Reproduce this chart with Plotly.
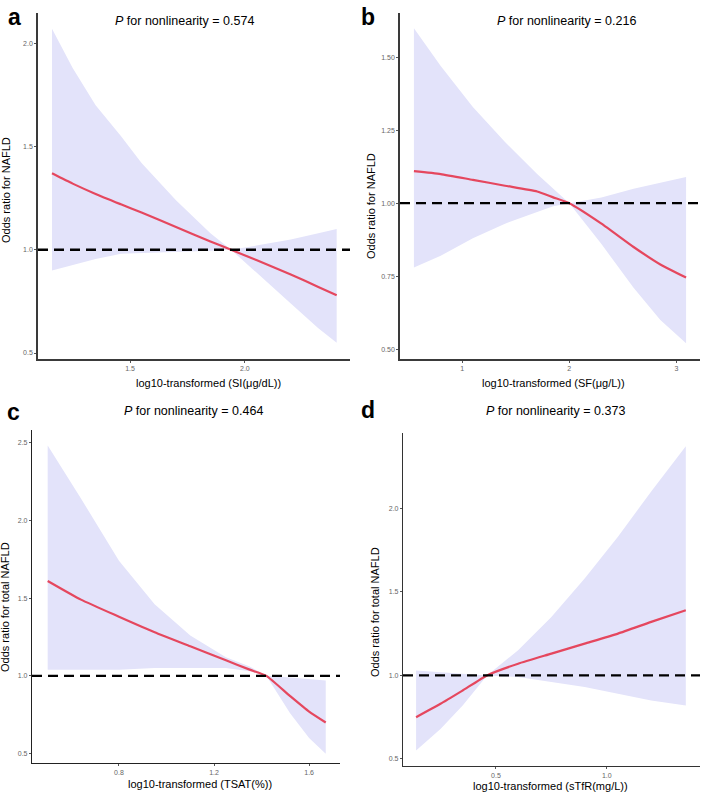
import plotly.graph_objects as go

# ---------------- data ----------------
a_x = [1.16, 1.25, 1.35, 1.46, 1.55, 1.70, 1.85, 1.94, 2.05, 2.20, 2.32, 2.40]
a_or = [1.37, 1.32, 1.27, 1.22, 1.18, 1.11, 1.04, 1.00, 0.95, 0.88, 0.82, 0.78]
a_up = [2.07, 1.88, 1.70, 1.55, 1.42, 1.24, 1.08, 1.00, 1.02, 1.05, 1.08, 1.10]
a_lo = [0.90, 0.925, 0.955, 0.98, 0.985, 0.99, 0.995, 1.00, 0.89, 0.74, 0.62, 0.55]

b_x = [0.55, 0.80, 1.10, 1.40, 1.70, 1.85, 2.00, 2.30, 2.60, 2.85, 3.09]
b_or = [1.11, 1.10, 1.08, 1.06, 1.04, 1.02, 1.00, 0.93, 0.85, 0.79, 0.745]
b_up = [1.60, 1.47, 1.33, 1.21, 1.10, 1.05, 1.00, 1.02, 1.05, 1.07, 1.09]
b_lo = [0.78, 0.82, 0.88, 0.93, 0.97, 0.99, 1.00, 0.86, 0.71, 0.60, 0.52]

c_x = [0.50, 0.64, 0.80, 0.95, 1.10, 1.25, 1.35, 1.42, 1.52, 1.60, 1.67]
c_or = [1.61, 1.49, 1.38, 1.28, 1.19, 1.10, 1.04, 1.00, 0.87, 0.77, 0.70]
c_up = [2.48, 2.14, 1.74, 1.46, 1.26, 1.12, 1.06, 1.00, 0.99, 0.98, 0.97]
c_lo = [1.04, 1.04, 1.04, 1.05, 1.05, 1.05, 1.03, 1.00, 0.76, 0.60, 0.50]

d_x = [0.14, 0.25, 0.35, 0.46, 0.60, 0.75, 0.90, 1.05, 1.20, 1.356]
d_or = [0.75, 0.83, 0.91, 1.00, 1.07, 1.13, 1.19, 1.25, 1.32, 1.39]
d_up = [1.03, 1.02, 1.01, 1.00, 1.15, 1.35, 1.58, 1.83, 2.10, 2.37]
d_lo = [0.55, 0.68, 0.82, 1.00, 0.99, 0.96, 0.93, 0.89, 0.85, 0.82]

titles = ["<i>P</i> for nonlinearity = 0.574", "<i>P</i> for nonlinearity = 0.216",
          "<i>P</i> for nonlinearity = 0.464", "<i>P</i> for nonlinearity = 0.373"]
x_titles = ["log10-transformed (SI(μg/dL))", "log10-transformed (SF(μg/L))",
            "log10-transformed (TSAT(%))", "log10-transformed (sTfR(mg/L))"]
y_titles = ["Odds ratio for NAFLD", "Odds ratio for NAFLD",
            "Odds ratio for total NAFLD", "Odds ratio for total NAFLD"]
letters = ["a", "b", "c", "d"]

a_xticks = [1.5, 2.0]; a_xtext = ["1.5", "2.0"]
a_yticks = [0.5, 1.0, 1.5, 2.0]; a_ytext = ["0.5", "1.0", "1.5", "2.0"]
b_xticks = [1, 2, 3]; b_xtext = ["1", "2", "3"]
b_yticks = [0.5, 0.75, 1.0, 1.25, 1.5]; b_ytext = ["0.50", "0.75", "1.00", "1.25", "1.50"]
c_xticks = [0.8, 1.2, 1.6]; c_xtext = ["0.8", "1.2", "1.6"]
c_yticks = [0.5, 1.0, 1.5, 2.0, 2.5]; c_ytext = ["0.5", "1.0", "1.5", "2.0", "2.5"]
d_xticks = [0.5, 1.0]; d_xtext = ["0.5", "1.0"]
d_yticks = [0.5, 1.0, 1.5, 2.0]; d_ytext = ["0.5", "1.0", "1.5", "2.0"]

# ---------------- layout geometry ----------------
W, H = 708, 799
# pixel boxes: (x0, x1, ytop, ybottom)
boxes = [(38, 350, 13, 359), (400, 700, 13, 359), (32, 340, 430, 763), (403, 700, 433, 766)]
ranges = [([1.099, 2.458], [0.471, 2.146]),
          ([0.42, 3.22], [0.466, 1.652]),
          ([0.434, 1.73], [0.44, 2.58]),
          ([0.081, 1.42], [0.458, 2.45])]
ticks = [(a_xticks, a_xtext, a_yticks, a_ytext), (b_xticks, b_xtext, b_yticks, b_ytext),
         (c_xticks, c_xtext, c_yticks, c_ytext), (d_xticks, d_xtext, d_yticks, d_ytext)]
series = [(a_x, a_or, a_up, a_lo), (b_x, b_or, b_up, b_lo),
          (c_x, c_or, c_up, c_lo), (d_x, d_or, d_up, d_lo)]
title_pos = [(184, 21), (566, 21), (193, 411), (555, 411)]
letter_pos = [(14, 17), (368, 17), (13, 412), (368, 410)]
xt_pos = [(208, 383), (553, 383), (200, 784), (550, 786)]
yt_pos = [(6, 190), (371, 206), (5, 607), (375, 612)]
axis_col = ["#3a3a3a", "#3a3a3a", "#222222", "#333333"]

BAND = "#E3E3FA"
RED = "#E5475E"
FONT = "Liberation Sans, Arial, sans-serif"

fig = go.Figure()
layout = dict(width=W, height=H, margin=dict(l=0, r=0, t=0, b=0),
              paper_bgcolor="white", plot_bgcolor="white", showlegend=False,
              font=dict(family=FONT, color="black"))
shapes, annotations = [], []

def px2x(p):
    return p / W

def px2y(p):
    return 1 - p / H

for i in range(4):
    n = "" if i == 0 else str(i + 1)
    xs, ors, ups, los = series[i]
    xr, yr = ranges[i]
    x0, x1, yt, yb = boxes[i]
    fig.add_trace(go.Scatter(x=xs + xs[::-1], y=ups + los[::-1], fill="toself",
                             fillcolor=BAND, line=dict(width=0),
                             mode="lines", hoverinfo="skip", xaxis="x" + n, yaxis="y" + n))
    fig.add_trace(go.Scatter(x=xs, y=ors, mode="lines",
                             line=dict(color=RED, width=2.2, shape="spline", smoothing=0.5),
                             xaxis="x" + n, yaxis="y" + n))
    xt, xtt, ytk, ytt = ticks[i]
    common = dict(showgrid=False, zeroline=False, showline=True, linecolor=axis_col[i],
                  linewidth=1.6 if i < 2 else 1.2, ticks="outside", ticklen=2, tickwidth=0.8,
                  tickcolor="#555555", tickfont=dict(size=7, color="#666666", family=FONT))
    layout["xaxis" + n] = dict(domain=[px2x(x0), px2x(x1)], range=xr, anchor="y" + n,
                               tickvals=xt, ticktext=xtt, **common)
    layout["yaxis" + n] = dict(domain=[px2y(yb), px2y(yt)], range=yr, anchor="x" + n,
                               tickvals=ytk, ticktext=ytt, **common)
    shapes.append(dict(type="line", xref="x" + n + " domain", yref="y" + n,
                       x0=0, x1=1, y0=1, y1=1,
                       line=dict(color="black", width=2.3, dash="10px,6px")))
    annotations.append(dict(text=titles[i], x=px2x(title_pos[i][0]), y=px2y(title_pos[i][1]),
                            xref="paper", yref="paper", showarrow=False,
                            xanchor="center", yanchor="middle",
                            font=dict(size=12.5, family=FONT, color="black")))
    annotations.append(dict(text="<b>" + letters[i] + "</b>", x=px2x(letter_pos[i][0]),
                            y=px2y(letter_pos[i][1]), xref="paper", yref="paper",
                            showarrow=False, xanchor="center", yanchor="middle",
                            font=dict(size=23, family=FONT, color="black")))
    annotations.append(dict(text=x_titles[i], x=px2x(xt_pos[i][0]), y=px2y(xt_pos[i][1]),
                            xref="paper", yref="paper", showarrow=False,
                            xanchor="center", yanchor="middle",
                            font=dict(size=11, family=FONT, color="black")))
    annotations.append(dict(text=y_titles[i], x=px2x(yt_pos[i][0]), y=px2y(yt_pos[i][1]),
                            xref="paper", yref="paper", showarrow=False, textangle=-90,
                            xanchor="center", yanchor="middle",
                            font=dict(size=11, family=FONT, color="black")))

layout["shapes"] = shapes
layout["annotations"] = annotations
fig.update_layout(**layout)
fig.write_html("out.html", config={"displayModeBar": False},
               post_script="document.body.style.margin='0';document.body.style.overflow='hidden';")
